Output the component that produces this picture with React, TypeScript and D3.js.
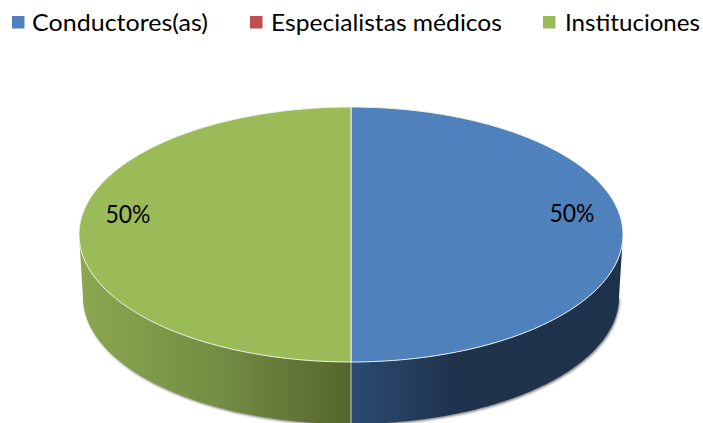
import React from "react";
import * as d3 from "d3";

const categories = ["Conductores(as)", "Especialistas médicos", "Instituciones"];
const shares = [50, 0, 50];
const colors = ["#4f81bd", "#c0504d", "#9bbb59"];
const labels = ["50%", "", "50%"];
const legendX = [12, 250, 543];
const legendTextX = [32, 271, 565];
const legendWidths = [176, 231, 135];
const labelPos: [number, number][] = [[572, 222], [0, 0], [128, 222.5]];

const W = 703, H = 423;
const cx = 351, cy = 234.5, rx = 272, ry = 127.5;
const botCx = 351, botCy = 297, botRx = 268, botRy = 127;

const arcs = d3.pie<number>().sort(null).value((d) => d)(shares);

// angle: 0 at top, clockwise
const px = (a: number, c: number, r: number) => c + r * Math.sin(a);
const py = (a: number, c: number, r: number) => c - r * Math.cos(a);

function ellipseArc(a0: number, a1: number, x: number, y: number, r1: number, r2: number) {
  return d3.range(0, 121).map((i) => {
    const a = a0 + ((a1 - a0) * i) / 120;
    return [px(a, x, r1), py(a, y, r2)] as [number, number];
  });
}
const line = d3.line();

function topPath(a0: number, a1: number) {
  return line([[cx, cy], ...ellipseArc(a0, a1, cx, cy, rx, ry)])! + "Z";
}
function sidePath(a0: number, a1: number) {
  const s0 = Math.max(a0, Math.PI / 2);
  const s1 = Math.min(a1, (3 * Math.PI) / 2);
  return line([...ellipseArc(s0, s1, cx, cy, rx, ry), ...ellipseArc(s1, s0, botCx, botCy, botRx, botRy)])! + "Z";
}

export default function App() {
  return (
    <svg width={W} height={H} style={{ position: "absolute", left: 0, top: 0, display: "block" }} fontFamily="Lato, 'Noto Sans', sans-serif">
      <defs>
        <linearGradient id="sideBlue" gradientUnits="userSpaceOnUse" x1={351} x2={623} y1={0} y2={0}>
          <stop offset="0" stopColor="#2c4b72" />
          <stop offset="0.38" stopColor="#1f334d" />
          <stop offset="1" stopColor="#1e324b" />
        </linearGradient>
        <linearGradient id="sideGreen" gradientUnits="userSpaceOnUse" x1={80} x2={351} y1={0} y2={0}>
          <stop offset="0" stopColor="#8ba74f" />
          <stop offset="0.5" stopColor="#748e43" />
          <stop offset="1" stopColor="#55652d" />
        </linearGradient>
        <filter id="soft" x="-5%" y="-5%" width="110%" height="115%">
          <feGaussianBlur stdDeviation="1.2" />
        </filter>
      </defs>

      {categories.map((c, i) => (
        <g key={c}>
          <rect x={legendX[i]} y={16} width={12.5} height={12.5} fill={colors[i]} />
          <text x={legendTextX[i]} y={31} fontSize={24} textLength={legendWidths[i]} lengthAdjust="spacingAndGlyphs" fill="#000">{c}</text>
        </g>
      ))}

      <path
        d={line([...ellipseArc(Math.PI / 2, (3 * Math.PI) / 2, botCx + 1, botCy + 1.5, botRx, botRy)])! + "Z"}
        fill="#8a8a8a"
        filter="url(#soft)"
      />

      {arcs.map((d, i) =>
        d.endAngle - d.startAngle > 0 ? (
          <path key={"s" + i} d={sidePath(d.startAngle, d.endAngle)} fill={i === 0 ? "url(#sideBlue)" : "url(#sideGreen)"} />
        ) : null
      )}
      <line x1={cx} x2={cx} y1={cy + ry} y2={botCy + botRy} stroke="#c9cfc4" strokeWidth={1} />

      {arcs.map((d, i) =>
        d.endAngle - d.startAngle > 0 ? (
          <path key={"t" + i} d={topPath(d.startAngle, d.endAngle)} fill={colors[i]} stroke="#eef2e6" strokeWidth={1} strokeLinejoin="round" />
        ) : null
      )}

      {arcs.map((d, i) =>
        labels[i] ? (
          <text key={"l" + i} x={labelPos[i][0]} y={labelPos[i][1]} fontSize={25} textLength={45} lengthAdjust="spacingAndGlyphs" textAnchor="middle" fill="#000">
            {labels[i]}
          </text>
        ) : null
      )}
    </svg>
  );
}
